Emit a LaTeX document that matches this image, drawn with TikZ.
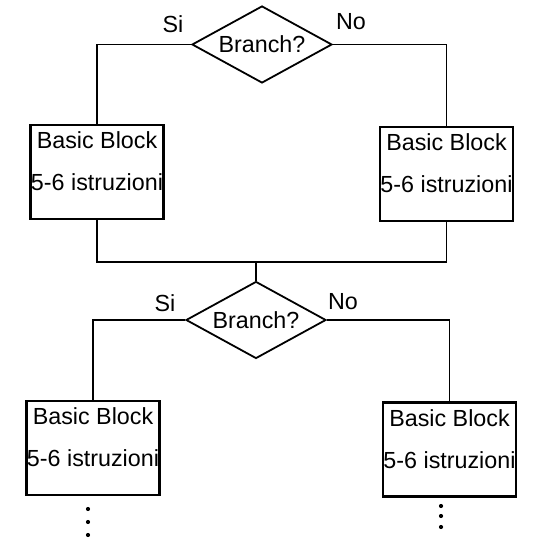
\documentclass[tikz,border=0pt]{standalone}
\usepackage{fontspec}
\setmainfont{Liberation Sans}
\usetikzlibrary{shapes.geometric,calc}
\begin{document}
\begin{tikzpicture}[x=1pt,y=1pt,
  every node/.style={font=\fontsize{23.3}{27}\selectfont},
  bblock/.style={draw,line width=2.6pt,rectangle,minimum width=133pt,minimum height=94pt,inner sep=0pt},
  decision/.style={draw,line width=1.8pt,diamond,aspect=1.8,minimum width=140pt,minimum height=77pt,inner sep=0pt},
  conn/.style={line width=1.8pt},
  lbl/.style={anchor=base,inner sep=0pt}]
\useasboundingbox (0,0) rectangle (539,543);
% top decision
\node[decision] (d1) at (262,498.5) {Branch?};
\node[bblock] (b1) at (97,371) {};
\node[bblock] (b2) at (446.5,369) {};
\node[lbl] at (173,510) {Si};
\node[lbl] at (351,513) {No};
% bottom decision
\node[decision] (d2) at (256,223) {Branch?};
\node[bblock] (b3) at (93,95) {};
\node[bblock] (b4) at (449.5,93.5) {};
\node[lbl] at (165,231) {Si};
\node[lbl] at (343,233) {No};
\coordinate (mc) at (256,281);
\coordinate (m1) at (b1.south |- mc);
\coordinate (m2) at (b2.south |- mc);
% box texts
\foreach \b in {b1,b2,b3,b4}{
  \node[lbl] at ($(\b.north)+(0,-25)$) {Basic Block};
  \node[lbl] at ($(\b.north)+(0,-67)$) {5-6 istruzioni};
}
% connectors
\draw[conn] (d1.west) -| (b1.north);
\draw[conn] (d1.east) -| (b2.north);
\draw[conn] (b1.south) -- (m1) -- (m2) -- (b2.south);
\draw[conn] (mc) -- (d2.north);
\draw[conn] (d2.west) -| (b3.north);
\draw[conn] (d2.east) -| (b4.north);
% continuation dots
\foreach \y in {34,21,8}{\fill (88,\y) circle (2.1pt);}
\foreach \y in {37,27,16}{\fill (441,\y) circle (2.1pt);}
\end{tikzpicture}
\end{document}
